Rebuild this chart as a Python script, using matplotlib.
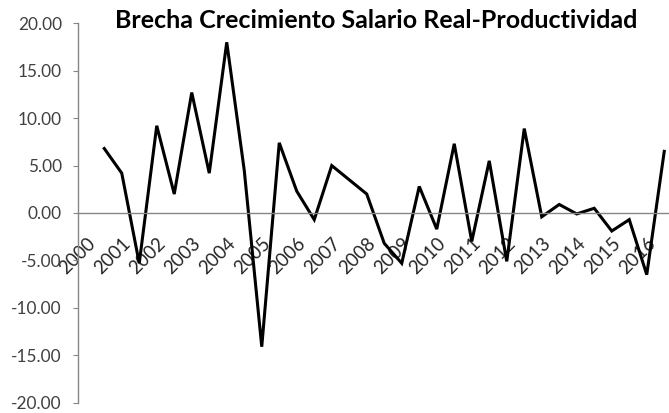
import matplotlib
matplotlib.use('Agg')
import matplotlib.pyplot as plt
import numpy as np

# brecha crecimiento salario real - productividad (semestral)
years = ['2000', '2001', '2002', '2003', '2004', '2005', '2006', '2007', '2008',
         '2009', '2010', '2011', '2012', '2013', '2014', '2015', '2016']
brecha = [np.nan,
          6.8, 4.2, -5.3, 9.2, 2.0, 12.7, 4.2, 18.0, 4.5, -14.1,
          7.4, 2.3, -0.7, 5.0, 3.5, 2.0, -3.2, -5.3, 2.8, -1.7,
          7.3, -3.0, 5.5, -5.1, 8.9, -0.4, 0.9, -0.1, 0.5, -1.9,
          -0.7, -6.5, 6.5]

plt.rcParams['font.family'] = ['Lato', 'DejaVu Sans']

W, H = 669, 413
fig = plt.figure(figsize=(W / 100, H / 100), dpi=100)
# eje a la derecha sale un poco del lienzo, como en el original
ax = fig.add_axes([78 / W, 1 - 402.7 / H, 595 / W, (402.7 - 23.3) / H])

x = np.arange(len(brecha))
ax.plot(x, brecha, color='black', linewidth=2.2, solid_joinstyle='miter')

ax.set_xlim(-0.5, len(brecha) - 0.5)
ax.set_ylim(-20, 20)
ax.set_yticks(np.arange(-20, 21, 5))
ax.set_yticklabels(['%.2f' % v for v in np.arange(-20, 21, 5)])

ax.set_xticks(np.arange(0, len(brecha), 2))
ax.set_xticklabels(years)

for s in ['top', 'right']:
    ax.spines[s].set_visible(False)
ax.spines['bottom'].set_position(('data', 0))
ax.spines['bottom'].set_color('#868686')
ax.spines['left'].set_color('#868686')
ax.spines['bottom'].set_linewidth(1.0)
ax.spines['left'].set_linewidth(1.0)

ax.tick_params(axis='y', length=3.6, width=0.8, color='#868686', pad=8,
               labelsize=12.4, labelcolor='#404040')
ax.tick_params(axis='x', length=0, pad=15.5, labelsize=13.4, labelcolor='#262626',
               labelrotation=45)
for lab in ax.get_xticklabels():
    lab.set_ha('right')
    lab.set_va('top')
    lab.set_rotation_mode('anchor')

fig.text(376 / W, 1 - 21 / H, 'Brecha Crecimiento Salario Real-Productividad',
         ha='center', va='center', fontsize=18, fontweight='bold', color='black')

plt.savefig('out.png', dpi=100)
